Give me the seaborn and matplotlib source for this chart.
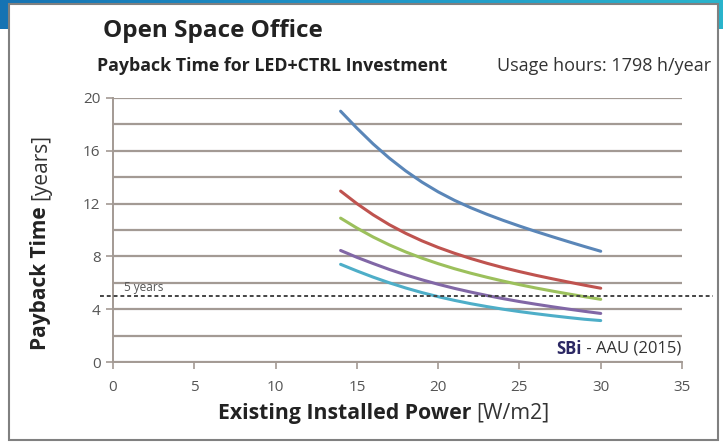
import seaborn as sns
import pandas as pd
import numpy as np
import matplotlib.pyplot as plt
from matplotlib.patches import Rectangle

power = list(range(14, 31))
blue = [19.0, 17.72, 16.52, 15.44, 14.48, 13.63, 12.89, 12.25, 11.69, 11.19,
        10.73, 10.30, 9.89, 9.50, 9.12, 8.75, 8.39]
red = [12.95, 12.0, 11.15, 10.4, 9.75, 9.18, 8.68, 8.24, 7.84, 7.48,
       7.15, 6.85, 6.57, 6.31, 6.06, 5.82, 5.59]
green = [10.9, 10.15, 9.47, 8.87, 8.34, 7.87, 7.45, 7.07, 6.73, 6.42,
         6.13, 5.86, 5.61, 5.38, 5.16, 4.95, 4.75]
purple = [8.45, 7.93, 7.46, 7.01, 6.6, 6.23, 5.89, 5.58, 5.3, 5.04,
          4.8, 4.58, 4.38, 4.19, 4.01, 3.84, 3.68]
cyan = [7.4, 6.9, 6.43, 6.0, 5.61, 5.26, 4.95, 4.67, 4.42, 4.2,
        4.0, 3.82, 3.66, 3.51, 3.37, 3.24, 3.14]
series_names = ['s1', 's2', 's3', 's4', 's5']
colors = ['#5a86b8', '#bf534f', '#9cc05c', '#8167a6', '#4eaec8']
limit_years = 5

df = pd.DataFrame({
    'power': power * 5,
    'payback': blue + red + green + purple + cyan,
    'series': np.repeat(series_names, len(power)),
})

sns.set_style('white')
plt.rcParams['font.family'] = ['Open Sans', 'DejaVu Sans']

fig = plt.figure(figsize=(7.23, 4.46), dpi=100)

# blue gradient band behind the card
band = fig.add_axes([0, 0.935, 1, 0.065], zorder=-1)
band.imshow(np.linspace(0, 1, 256).reshape(1, -1), aspect='auto',
            cmap=plt.matplotlib.colors.LinearSegmentedColormap.from_list(
                'band', ['#1673b3', '#1f95c8', '#2ab4cc']))
band.axis('off')
fig.patches.append(Rectangle((0.0125, 0.013), 0.98, 0.978, transform=fig.transFigure,
                             facecolor='white', edgecolor='#808080', lw=1.5, zorder=1))

ax = fig.add_axes([0.1563, 0.1883, 0.787, 0.592])
ax.set_facecolor('none')
ax.set_zorder(2)

sns.lineplot(data=df, x='power', y='payback', hue='series', palette=colors,
             linewidth=2.2, legend=False, ax=ax, zorder=3)

ax.set_xlim(0, 35)
ax.set_ylim(0, 20)
ax.set_xticks(range(0, 36, 5))
ax.set_yticks(range(0, 21, 4))
ax.set_yticks(range(2, 21, 4), minor=True)
ax.grid(axis='y', which='both', color='#a39a94', lw=1.6)
ax.tick_params(axis='both', which='both', direction='out', length=5, width=1.2,
               color='#a39a94', labelsize=11, labelcolor='#555555', pad=4)
ax.tick_params(axis='x', bottom=True, pad=8)
ax.tick_params(axis='y', left=True)
for s in ['top', 'right']:
    ax.spines[s].set_visible(False)
for s in ['left', 'bottom']:
    ax.spines[s].set_color('#a39a94')
    ax.spines[s].set_linewidth(1.4)
ax.set_xlabel('')
ax.set_ylabel('')

ax.axhline(limit_years, xmin=-0.023, xmax=1.054, color='#444444', ls=(0, (2, 1.5)),
           lw=1.4, clip_on=False, zorder=4)
ax.text(0.7, limit_years + 0.15, '5 years', fontsize=8.5, color='#555555',
        va='bottom', ha='left')

fig.text(0.142, 0.93, 'Open Space Office', fontsize=17.5, fontweight='bold',
         color='#222222', va='center')
fig.text(0.134, 0.853, 'Payback Time for LED+CTRL Investment', fontsize=12.8,
         fontweight='bold', color='#222222', va='center')
fig.text(0.983, 0.851, 'Usage hours: 1798 h/year', fontsize=13,
         color='#333333', va='center', ha='right')

fig.canvas.draw()
r = fig.canvas.get_renderer()

# x label: bold part + regular part
xl_b = fig.text(0.302, 0.073, 'Existing Installed Power', fontsize=15.3,
                fontweight='bold', color='#222222', va='center')
bb = xl_b.get_window_extent(r)
fig.text(bb.x1 / fig.bbox.width + 0.006, 0.073, '[W/m2]', fontsize=15.3,
         color='#333333', va='center')

# y label: bold part + regular part, rotated
yl_b = fig.text(0.056, 0.215, 'Payback Time', fontsize=15, fontweight='bold',
                color='#222222', rotation=90, ha='center', va='bottom')
bb = yl_b.get_window_extent(r)
fig.text(0.056, bb.y1 / fig.bbox.height + 0.014, '[years]', fontsize=15,
         color='#333333', rotation=90, ha='center', va='bottom')

# source note
src = ax.text(34.95, 1.0, ' - AAU (2015)', fontsize=12, color='#333333',
              ha='right', va='center')
bb = src.get_window_extent(r)
x0 = ax.transData.inverted().transform((bb.x0, bb.y0))[0]
ax.text(x0, 1.0, 'SBi', fontsize=12, fontweight='bold', color='#2b2763',
        ha='right', va='center')

fig.savefig('out.png', dpi=100)
